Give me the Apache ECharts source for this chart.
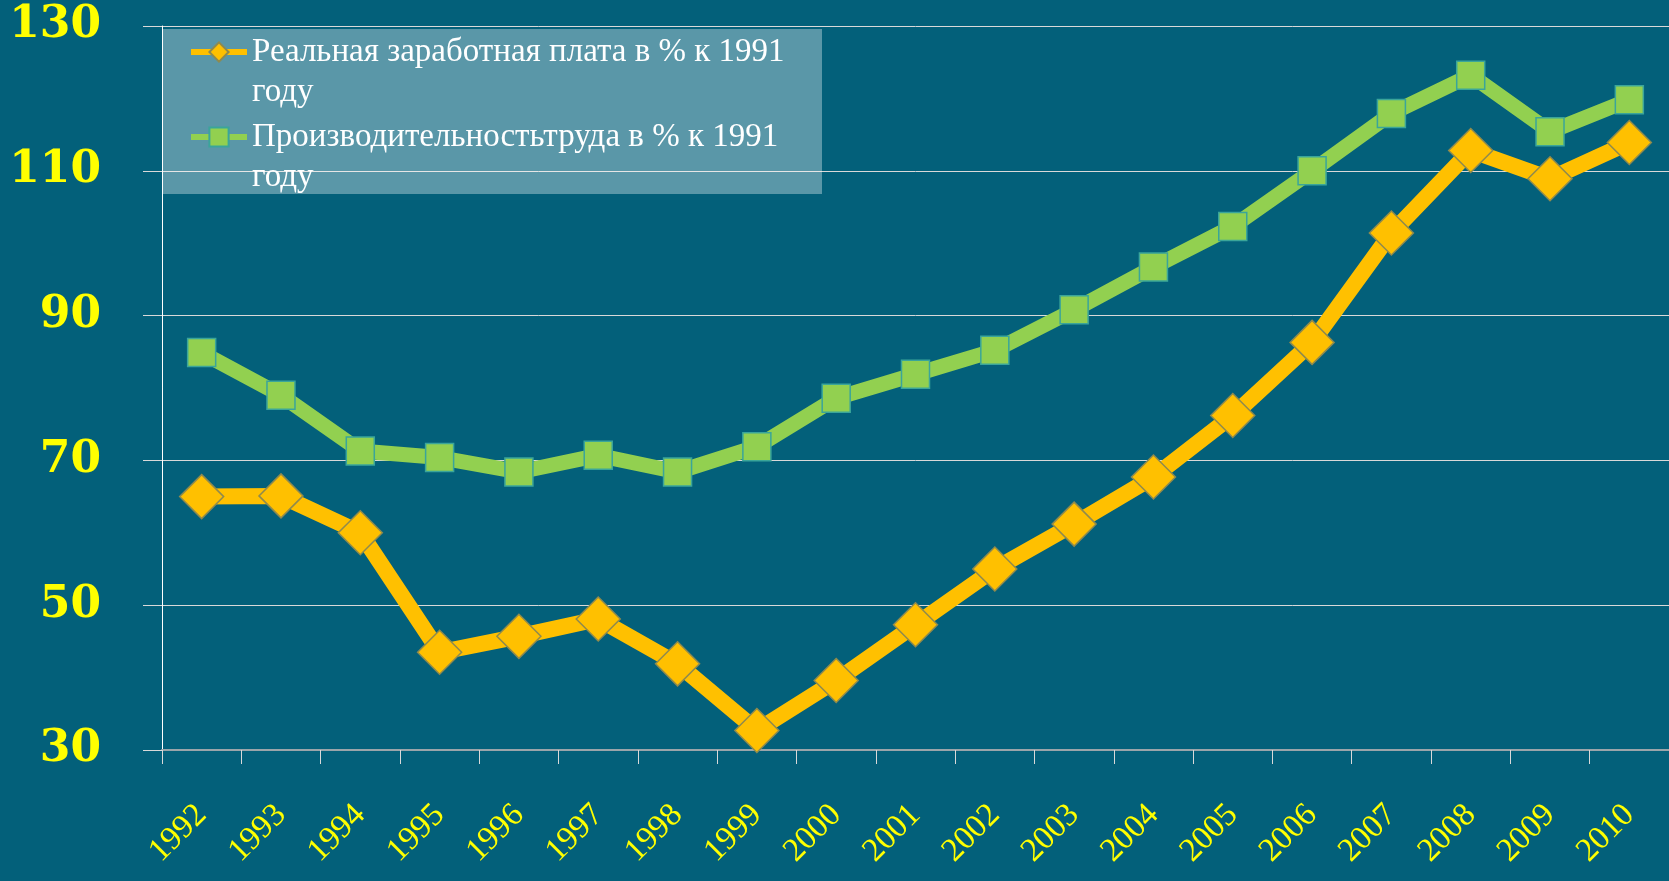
<!DOCTYPE html>
<html>
<head>
<meta charset="utf-8">
<script src="https://cdn.jsdelivr.net/npm/echarts@6/dist/echarts.min.js"></script>
<style>
  html, body { margin: 0; padding: 0; background: #03607a; }
  #chart { width: 1669px; height: 881px; }
</style>
</head>
<body>
<div id="chart"></div>
<script>
(function(){
  var years = ['1992','1993','1994','1995','1996','1997','1998','1999','2000','2001',
               '2002','2003','2004','2005','2006','2007','2008','2009','2010'];
  var wageName = 'Реальная заработная плата в % к 1991 году';
  var prodName = 'Производительностьтруда в % к 1991 году';
  var wages = [65.0, 65.1, 60.0, 43.5, 45.7, 48.1, 41.9, 32.7, 39.6, 47.3,
               55.0, 61.2, 67.7, 76.2, 86.3, 101.4, 112.8, 108.9, 113.9];
  var productivity = [84.9, 79.0, 71.3, 70.4, 68.4, 70.7, 68.4, 71.9, 78.6, 81.9,
                      85.2, 90.8, 96.7, 102.3, 110.0, 117.9, 123.2, 115.4, 119.8];
  var yTicks = [30, 130, 20]; // min, max, step

  var myChart = echarts.init(document.getElementById('chart'));
  var serif = '"Liberation Serif", "DejaVu Serif", serif';

  var option = {
    backgroundColor: '#03607a',
    animation: false,
    grid: {
      left: 162,
      top: 26,
      width: 1514,
      height: 724
    },
    graphic: [{
      type: 'rect',
      z: 1,
      shape: { x: 163, y: 29, width: 659, height: 165 },
      style: { fill: 'rgba(255,255,255,0.35)' }
    }],
    legend: {
      orient: 'vertical',
      left: 163,
      top: -8,
      padding: [0, 0, 0, 25],
      itemGap: -35,
      itemWidth: 56,
      itemHeight: 24,
      z: 10,
      lineStyle: { width: 6 },
      // empty first line keeps the first text line level with the icon
      formatter: function(name) {
        return '\n' + name.replace(' году', '\nгоду');
      },
      textStyle: {
        color: '#ffffff',
        fontFamily: serif,
        fontSize: 33,
        lineHeight: 40
      },
      data: [wageName, prodName]
    },
    xAxis: {
      type: 'category',
      data: years,
      boundaryGap: true,
      axisLine: { lineStyle: { color: '#9aa5aa', width: 2 } },
      axisTick: { show: true, length: 14, lineStyle: { color: '#d9d9d9' } },
      axisLabel: {
        rotate: 45,
        margin: 60,
        color: '#ffff00',
        fontFamily: serif,
        fontSize: 33,
        interval: 0
      },
      splitLine: { show: false }
    },
    yAxis: {
      type: 'value',
      min: yTicks[0],
      max: yTicks[1],
      interval: yTicks[2],
      axisLine: { show: true, lineStyle: { color: '#ffffff', width: 1 } },
      axisTick: { show: true, length: 19, lineStyle: { color: '#d9d9d9' } },
      axisLabel: {
        margin: 61,
        color: '#ffff00',
        fontFamily: '"DejaVu Serif", serif',
        fontWeight: 'bold',
        fontSize: 44
      },
      splitLine: { show: true, lineStyle: { color: '#d9d9d9', width: 1 } }
    },
    series: [{
      name: wageName,
      type: 'line',
      data: wages,
      symbol: 'diamond',
      symbolSize: 44,
      z: 3,
      lineStyle: { color: '#ffc000', width: 16 },
      itemStyle: { color: '#ffc000', borderColor: '#8f8a4e', borderWidth: 1.5 }
    }, {
      name: prodName,
      type: 'line',
      data: productivity,
      symbol: 'rect',
      symbolSize: 28,
      z: 4,
      lineStyle: { color: '#92d050', width: 15 },
      itemStyle: { color: '#92d050', borderColor: '#3aa59a', borderWidth: 1.5 }
    }]
  };

  myChart.setOption(option);
  window.addEventListener('resize', function() {
    myChart.resize();
  });
})();
</script>
</body>
</html>
